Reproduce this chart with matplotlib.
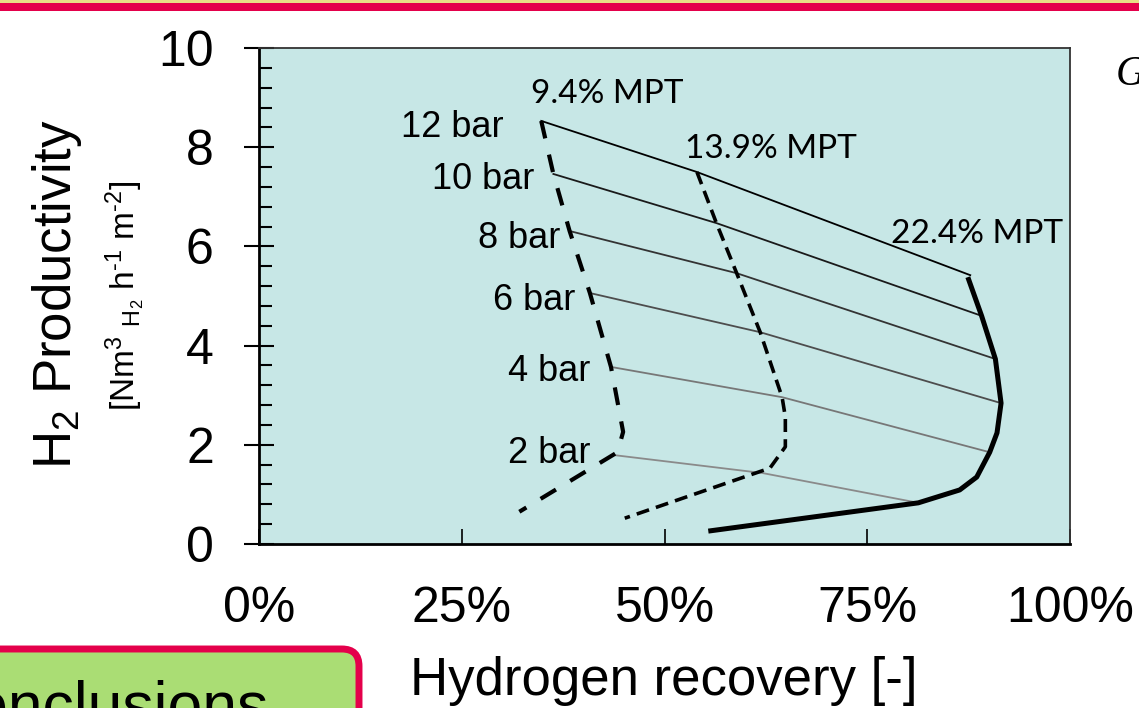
import matplotlib.pyplot as plt
from matplotlib.patches import FancyBboxPatch, Rectangle
from matplotlib.ticker import MultipleLocator, FixedLocator

plt.rcParams['font.family'] = ['Liberation Sans', 'DejaVu Sans']
plt.rcParams['mathtext.default'] = 'regular'

# isobars: hydrogen recovery [%] vs H2 productivity
bar12_x = [34.8, 54.0, 87.7]
bar12_y = [8.53, 7.50, 5.42]
bar10_x = [36.3, 56.4, 89.1]
bar10_y = [7.46, 6.47, 4.60]
bar8_x = [38.3, 58.9, 90.8]
bar8_y = [6.31, 5.46, 3.73]
bar6_x = [40.8, 61.8, 91.5]
bar6_y = [5.06, 4.27, 2.84]
bar4_x = [43.4, 64.5, 90.1]
bar4_y = [3.57, 2.96, 1.85]
bar2_x = [43.9, 62.1, 81.3]
bar2_y = [1.79, 1.43, 0.83]

# constant membrane permeation thickness curves
mpt94_x = [34.8, 36.3, 38.3, 40.8, 43.4, 44.9, 44.2, 32.1]
mpt94_y = [8.53, 7.46, 6.31, 5.06, 3.57, 2.26, 1.85, 0.65]
mpt139_x = [54.0, 56.4, 58.9, 61.8, 64.5, 64.9, 64.9, 63.0, 45.1]
mpt139_y = [7.50, 6.47, 5.46, 4.27, 2.96, 2.56, 1.96, 1.53, 0.52]
mpt224_x = [87.4, 89.1, 90.8, 91.5, 91.0, 90.1, 88.5, 86.4, 81.3, 55.4]
mpt224_y = [5.38, 4.60, 3.73, 2.84, 2.24, 1.85, 1.35, 1.09, 0.83, 0.26]

x_ticks = [0, 25, 50, 75, 100]
x_labels = ['0%', '25%', '50%', '75%', '100%']
y_ticks = [0, 2, 4, 6, 8, 10]

fig = plt.figure(figsize=(11.39, 7.08), dpi=100)
ax = fig.add_axes([259 / 1139, 1 - 544 / 708, 811 / 1139, 496 / 708])
ax.set_facecolor('#c7e7e6')

# slide decorations
fig.patches.append(Rectangle((0, 1 - 3 / 708), 1, 3 / 708, transform=fig.transFigure,
                             facecolor='#e8df86', edgecolor='none'))
fig.patches.append(Rectangle((0, 1 - 11 / 708), 1, 8 / 708, transform=fig.transFigure,
                             facecolor='#e4004b', edgecolor='none'))
box = FancyBboxPatch((-20 / 1139, -40 / 708), 379 / 1139, 99 / 708,
                     boxstyle='round,pad=0,rounding_size=0.015',
                     transform=fig.transFigure, facecolor='#aadd74',
                     edgecolor='#e4004b', linewidth=5, mutation_aspect=1139 / 708)
fig.patches.append(box)
fig.text(269 / 1139, 1 - 726 / 708, 'Conclusions', fontsize=45, ha='right', va='baseline')
fig.text(1116 / 1139, 1 - 85 / 708, 'G', fontsize=30, family='Liberation Serif',
         style='italic', ha='left', va='baseline')

# isobars
iso_color = ['#000000', '#1a1a1a', '#333333', '#4d4d4d', '#777777', '#8a8a8a']
for (xs, ys), c in zip([(bar12_x, bar12_y), (bar10_x, bar10_y), (bar8_x, bar8_y),
                        (bar6_x, bar6_y), (bar4_x, bar4_y), (bar2_x, bar2_y)], iso_color):
    ax.plot(xs, ys, color=c, lw=1.3)

ax.plot(mpt94_x, mpt94_y, color='black', lw=3.0, ls=(0, (4.3, 4.0)))
ax.plot(mpt139_x, mpt139_y, color='black', lw=2.6, ls=(0, (3.6, 2.0)))
ax.plot(mpt224_x, mpt224_y, color='black', lw=3.6, solid_capstyle='butt')

# labels
for txt, xx, yy in [('12 bar', 30.2, 8.21), ('10 bar', 34.0, 7.16), ('8 bar', 37.1, 5.97),
                    ('6 bar', 39.0, 4.72), ('4 bar', 40.9, 3.29), ('2 bar', 40.9, 1.63)]:
    ax.text(xx, yy, txt, fontsize=26, ha='right', va='baseline')
for txt, xx, yy in [('9.4% MPT', 33.5, 8.89), ('13.9% MPT', 52.5, 7.78),
                    ('22.4% MPT', 77.9, 6.07)]:
    ax.text(xx, yy, txt, fontsize=24, family='Lato', ha='left', va='baseline')

ax.set_xlim(0, 100)
ax.set_ylim(0, 10)
ax.xaxis.set_major_locator(FixedLocator(x_ticks))
ax.set_xticklabels(x_labels)
ax.yaxis.set_major_locator(FixedLocator(y_ticks))
ax.yaxis.set_minor_locator(MultipleLocator(0.4))
ax.tick_params(axis='x', which='major', direction='in', length=11, width=1.2,
               labelsize=36, pad=30)
ax.tick_params(axis='y', which='major', direction='inout', length=21, width=1.5,
               labelsize=36, pad=22)
ax.tick_params(axis='y', which='minor', direction='in', length=9, width=1.5)
for s in ['left', 'bottom']:
    ax.spines[s].set_linewidth(2.0)
for s in ['top', 'right']:
    ax.spines[s].set_linewidth(1.3)
    ax.spines[s].set_color('#333333')

fig.text(664 / 1139, 1 - 695 / 708, 'Hydrogen recovery [-]', fontsize=38,
         ha='center', va='baseline')
fig.text(57 / 1139, 1 - 294 / 708, 'H$_2$ Productivity', fontsize=38, rotation=90,
         ha='center', va='center')
fig.text(125 / 1139, 1 - 296 / 708, '[Nm$^3$ $_{H_2}$ h$^{\u2010 1}$ m$^{\u2010 2}$]',
         fontsize=24, rotation=90, ha='center', va='center')

fig.savefig('out.png', dpi=100)
